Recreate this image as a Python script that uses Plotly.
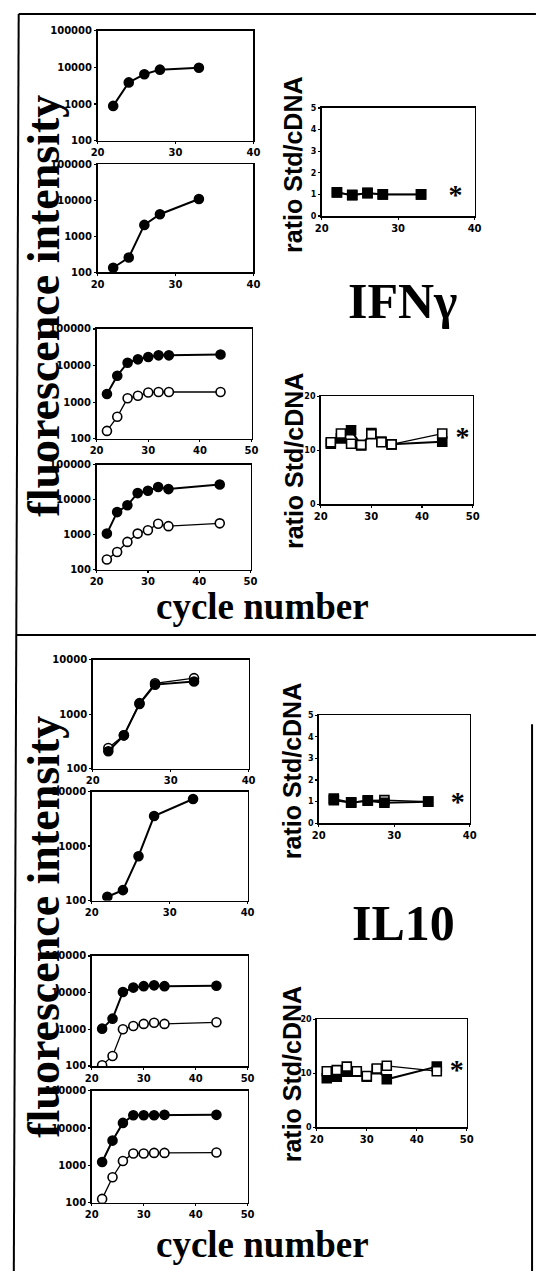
import math
import plotly.graph_objects as go

W, H = 541, 1275

# ---------------- data ----------------
# IFN-gamma, fluorescence intensity vs cycle number
ifn_a1_x = [22, 24, 26, 28, 33]
ifn_a1_filled = [890, 3900, 6500, 8700, 9800]
ifn_a2_x = [22, 24, 26, 28, 33]
ifn_a2_filled = [135, 260, 2100, 4150, 11000]
ifn_a3_x = [22, 24, 26, 28, 30, 32, 34, 44]
ifn_a3_filled = [1670, 5300, 12000, 14800, 17200, 19000, 19000, 20000]
ifn_a3_open = [165, 400, 1290, 1500, 1850, 1900, 1900, 1900]
ifn_a4_x = [22, 24, 26, 28, 30, 32, 34, 44]
ifn_a4_filled = [1070, 4400, 6900, 15400, 18000, 23000, 20000, 27000]
ifn_a4_open = [195, 320, 620, 1070, 1340, 2050, 1750, 2100]
# IFN-gamma, ratio Std/cDNA
ifn_b1_x = [22, 24, 26, 28, 33]
ifn_b1_filled = [1.09, 0.96, 1.07, 1.0, 1.0]
ifn_b1_open = [1.1, 0.98, 1.06, 1.0, 1.0]
ifn_b1_star_x = [37.5]
ifn_b1_star_y = [0.9]
ifn_b2_x = [22, 24, 26, 28, 30, 32, 34, 44]
ifn_b2_filled = [11.2, 12.2, 13.7, 10.9, 13.2, 11.6, 11.1, 11.6]
ifn_b2_open = [11.5, 13.1, 11.2, 11.0, 13.0, 11.5, 11.1, 13.1]
ifn_b2_star_x = [48]
ifn_b2_star_y = [12.0]

# IL10, fluorescence intensity vs cycle number
il_c1_x = [22, 24, 26, 28, 33]
il_c1_filled = [210, 410, 1550, 3500, 4000]
il_c1_open = [240, 410, 1600, 3700, 4600]
il_c2_x = [22, 24, 26, 28, 33]
il_c2_filled = [117, 155, 650, 3550, 7300]
il_c3_x = [22, 24, 26, 28, 30, 32, 34, 44]
il_c3_filled = [1040, 1950, 10400, 13700, 15000, 15800, 15000, 15400]
il_c3_open = [104, 187, 1000, 1230, 1400, 1500, 1400, 1550]
il_c4_x = [22, 24, 26, 28, 30, 32, 34, 44]
il_c4_filled = [1230, 4600, 13700, 22000, 22000, 22000, 22500, 22500]
il_c4_open = [126, 480, 1310, 2080, 2080, 2150, 2150, 2200]
# IL10, ratio Std/cDNA
il_d1_x = [22, 24.3, 26.5, 28.7, 34.5]
il_d1_filled = [1.07, 0.95, 1.04, 0.95, 1.0]
il_d1_open = [1.14, 0.97, 1.06, 1.07, 1.0]
il_d1_star_x = [38.4]
il_d1_star_y = [0.9]
il_d2_x = [22, 24, 26, 28, 30, 32, 34, 44]
il_d2_filled = [9.1, 9.4, 10.3, 10.3, 9.4, 10.75, 8.9, 11.25]
il_d2_open = [10.4, 10.6, 11.25, 10.4, 9.5, 10.9, 11.4, 10.4]
il_d2_star_x = [48]
il_d2_star_y = [10.3]

# tick labels
x_ticks_40 = [20, 30, 40]
x_ticks_50 = [20, 30, 40, 50]
log_ticks_5 = [100, 1000, 10000, 100000]
log_ticks_4 = [100, 1000, 10000]
ratio_ticks_5 = [0, 1, 2, 3, 4, 5]
ratio_ticks_20 = [0, 10, 20]

# ---------------- layout helpers ----------------
def px_x(p):
    return p / W

def px_y(p):
    return 1 - p / H

TICKFONT = dict(family="DejaVu Sans", size=10, color="black", weight="bold")
SMALLFONT = dict(family="DejaVu Sans", size=8, color="black", weight="bold")

fig = go.Figure()
layout = {}
panel_count = [0]


def add_panel(box, xticks, yticks, ylog, ytickfont=TICKFONT):
    panel_count[0] += 1
    i = panel_count[0]
    sx = "" if i == 1 else str(i)
    x0, x1, y0, y1 = box
    xaxis = dict(
        domain=[px_x(x0), px_x(x1)], anchor="y" + sx,
        range=[xticks[0], xticks[-1]], tickvals=xticks,
        ticktext=[str(t) for t in xticks],
        showline=True, mirror=True, linecolor="black", linewidth=1.6,
        ticks="outside", ticklen=2, tickwidth=1.2, tickcolor="black",
        showgrid=False, zeroline=False, tickfont=TICKFONT, fixedrange=True,
    )
    if ylog:
        yr = [math.log10(yticks[0]), math.log10(yticks[-1])]
        ytype = "log"
    else:
        yr = [yticks[0], yticks[-1]]
        ytype = "linear"
    yaxis = dict(
        domain=[px_y(y1), px_y(y0)], anchor="x" + sx, type=ytype,
        range=yr, tickvals=yticks, ticktext=[str(t) for t in yticks],
        showline=True, mirror=True, linecolor="black", linewidth=1.6,
        ticks="outside", ticklen=2, tickwidth=1.2, tickcolor="black",
        showgrid=False, zeroline=False, tickfont=ytickfont, fixedrange=True,
    )
    layout["xaxis" + sx] = xaxis
    layout["yaxis" + sx] = yaxis
    return "x" + sx, "y" + sx


def circles(ax, x, y, filled):
    xa, ya = ax
    fig.add_trace(go.Scatter(
        x=x, y=y, xaxis=xa, yaxis=ya, mode="lines+markers",
        line=dict(color="black", width=2.0 if filled else 1.3),
        marker=dict(symbol="circle", size=9,
                    color="black" if filled else "white",
                    line=dict(color="black", width=1.6)),
        showlegend=False, hoverinfo="skip"))


def squares(ax, x, y, filled):
    xa, ya = ax
    fig.add_trace(go.Scatter(
        x=x, y=y, xaxis=xa, yaxis=ya, mode="lines+markers",
        line=dict(color="black", width=2.0 if filled else 1.2),
        marker=dict(symbol="square", size=9,
                    color="black" if filled else "white",
                    line=dict(color="black", width=1.6)),
        showlegend=False, hoverinfo="skip"))


def star(ax, x, y):
    xa, ya = ax
    fig.add_trace(go.Scatter(
        x=x, y=y, xaxis=xa, yaxis=ya, mode="text", text=["*"],
        textposition="middle center",
        textfont=dict(family="Liberation Serif", size=28, color="black",
                      weight="bold"),
        showlegend=False, hoverinfo="skip"))


# ---------------- IFN-gamma panels ----------------
a1 = add_panel((93, 253, 25, 136), x_ticks_40, log_ticks_5, True)
circles(a1, ifn_a1_x, ifn_a1_filled, True)
a2 = add_panel((93, 253, 160, 269), x_ticks_40, log_ticks_5, True)
circles(a2, ifn_a2_x, ifn_a2_filled, True)
a3 = add_panel((92, 251, 326, 437), x_ticks_50, log_ticks_5, True)
circles(a3, ifn_a3_x, ifn_a3_open, False)
circles(a3, ifn_a3_x, ifn_a3_filled, True)
a4 = add_panel((92, 250, 463, 569), x_ticks_50, log_ticks_5, True)
circles(a4, ifn_a4_x, ifn_a4_open, False)
circles(a4, ifn_a4_x, ifn_a4_filled, True)
b1 = add_panel((323, 480, 103, 212), x_ticks_40, ratio_ticks_5, False, SMALLFONT)
squares(b1, ifn_b1_x, ifn_b1_open, False)
squares(b1, ifn_b1_x, ifn_b1_filled, True)
star(b1, ifn_b1_star_x, ifn_b1_star_y)
b2 = add_panel((322, 478, 394, 503), x_ticks_50, ratio_ticks_20, False, SMALLFONT)
squares(b2, ifn_b2_x, ifn_b2_filled, True)
squares(b2, ifn_b2_x, ifn_b2_open, False)
star(b2, ifn_b2_star_x, ifn_b2_star_y)

# ---------------- IL10 panels ----------------
c1 = add_panel((88, 248, 660, 770), x_ticks_40, log_ticks_4, True)
circles(c1, il_c1_x, il_c1_open, False)
circles(c1, il_c1_x, il_c1_filled, True)
c2 = add_panel((87, 247, 793, 903), x_ticks_40, log_ticks_4, True)
circles(c2, il_c2_x, il_c2_filled, True)
c3 = add_panel((87, 247, 959, 1070), x_ticks_50, log_ticks_5, True)
circles(c3, il_c3_x, il_c3_open, False)
circles(c3, il_c3_x, il_c3_filled, True)
c4 = add_panel((87, 247, 1095, 1208), x_ticks_50, log_ticks_5, True)
circles(c4, il_c4_x, il_c4_open, False)
circles(c4, il_c4_x, il_c4_filled, True)
d1 = add_panel((320, 475, 716, 825), x_ticks_40, ratio_ticks_5, False, SMALLFONT)
squares(d1, il_d1_x, il_d1_open, False)
squares(d1, il_d1_x, il_d1_filled, True)
star(d1, il_d1_star_x, il_d1_star_y)
d2 = add_panel((318, 472, 1023, 1132), x_ticks_50, ratio_ticks_20, False, SMALLFONT)
squares(d2, il_d2_x, il_d2_filled, True)
squares(d2, il_d2_x, il_d2_open, False)
star(d2, il_d2_star_x, il_d2_star_y)

# ---------------- text ----------------
SERIF = "Liberation Serif"
SANS = "Liberation Sans"


def text(label, x, y, size, family, angle=0):
    return dict(text=label, x=px_x(x), y=px_y(y), xref="paper", yref="paper",
                xanchor="center", yanchor="middle", showarrow=False,
                textangle=angle,
                font=dict(family=family, size=size, color="black",
                          weight="bold"))


annotations = [
    text("fluorescence intensity", 37.5, 303, 46, SERIF, -90),
    text("cycle number", 262, 606, 37, SERIF),
    text("IFNγ", 407, 298, 50, SERIF),
    text("ratio Std/cDNA", 294, 160, 25, SANS, -90),
    text("ratio Std/cDNA", 294, 459, 25, SANS, -90),
    text("fluorescence intensity", 37.5, 930, 46, SERIF, -90),
    text("cycle number", 262, 1250, 37, SERIF),
    text("IL10", 407, 926, 50, SERIF),
    text("ratio Std/cDNA", 292, 772, 25, SANS, -90),
    text("ratio Std/cDNA", 292, 1078, 25, SANS, -90),
]


def seg(xa, ya, xb, yb, w=2):
    return dict(type="line", xref="paper", yref="paper",
                x0=px_x(xa), y0=px_y(ya), x1=px_x(xb), y1=px_y(yb),
                line=dict(color="black", width=w))


shapes = [
    seg(12, 8, W + 2, 8),
    seg(12, 8, 7, H + 2),
    seg(10, 635, W + 2, 635),
    seg(539, 725, 539, H + 2),
]

fig.update_layout(
    width=W, height=H, margin=dict(l=0, r=0, t=0, b=0),
    paper_bgcolor="white", plot_bgcolor="white",
    showlegend=False, annotations=annotations, shapes=shapes,
    **layout,
)

fig.write_html(
    "out.html",
    config={"displayModeBar": False, "staticPlot": True},
    post_script="document.body.style.margin='0';document.body.style.overflow='hidden';",
)
